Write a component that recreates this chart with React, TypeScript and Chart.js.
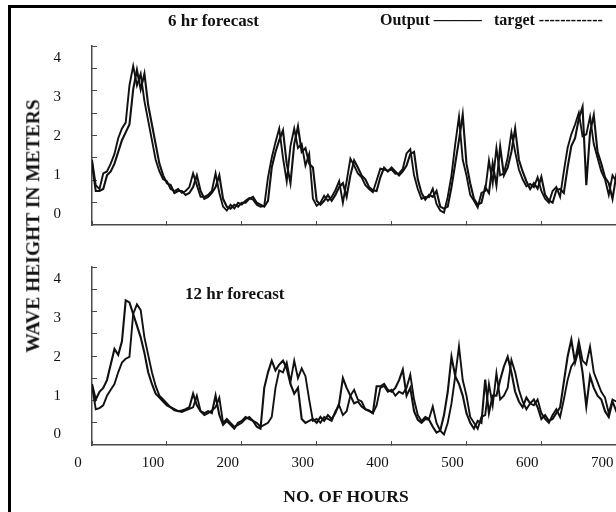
import React, { useEffect, useRef } from "react";
import { Chart, registerables } from "chart.js";

Chart.register(...registerables);

// ---- data ----
const HOURS = [
  0, 5, 10, 15, 20, 25, 30, 35, 40, 45, 50, 55, 60, 65, 70, 75, 80, 85, 90, 95,
  100, 105, 110, 115, 120, 125, 130, 135, 140, 145, 150, 155, 160, 165, 170, 175, 180, 185, 190, 195,
  200, 205, 210, 215, 220, 225, 230, 235, 240, 245, 250, 255, 260, 265, 270, 275, 280, 285, 290, 295,
  300, 305, 310, 315, 320, 325, 330, 335, 340, 345, 350, 355, 360, 365, 370, 375, 380, 385, 390, 395,
  400, 405, 410, 415, 420, 425, 430, 435, 440, 445, 450, 455, 460, 465, 470, 475, 480, 485, 490, 495,
  500, 505, 510, 515, 520, 525, 530, 535, 540, 545, 550, 555, 560, 565, 570, 575, 580, 585, 590, 595,
  600, 605, 610, 615, 620, 625, 630, 635, 640, 645, 650, 655, 660, 665, 670, 675, 680, 685, 690, 695,
  700, 705,
];

const TARGET_6 = [
  1.4, 0.75, 0.65, 1.05, 1.1, 1.3, 1.55, 1.95, 2.2, 2.35, 3.3, 3.8, 3.3, 3.6, 2.9, 2.4, 1.9, 1.4, 1.1, 0.9,
  0.85, 0.65, 0.6, 0.65, 0.55, 0.6, 0.7, 1.05, 0.75, 0.45, 0.45, 0.5, 0.6, 1.05, 0.55, 0.2, 0.1, 0.25, 0.15, 0.3,
  0.25, 0.35, 0.42, 0.38, 0.25, 0.2, 0.22, 0.95, 1.45, 1.85, 2.2, 1.45, 0.85, 1.75, 2.2, 1.7, 1.8, 1.25, 1.55, 0.4,
  0.22, 0.3, 0.48, 0.35, 0.45, 0.62, 0.85, 0.3, 0.85, 1.43, 1.25, 1.05, 0.95, 0.75, 0.65, 0.57, 0.87, 1.17, 1.15, 1.12,
  1.15, 1.04, 1.05, 1.17, 1.56, 1.67, 1.0, 0.65, 0.4, 0.45, 0.44, 0.66, 0.27, 0.1, 0.05, 0.45, 1.0, 1.8, 2.5, 1.4,
  1.0, 0.5, 0.35, 0.18, 0.55, 0.6, 1.38, 0.8, 1.7, 1.0, 1.05, 1.45, 2.1, 1.6, 1.15, 0.9, 0.72, 0.78, 0.7, 0.95,
  0.6, 0.4, 0.3, 0.6, 0.7, 0.45, 1.1, 1.7, 2.05, 2.3, 2.6, 2.0, 2.05, 2.5, 1.8, 1.45, 1.1, 0.9, 0.5, 1.0,
  0.85, 0.9,
];

const OUTPUT_6 = [
  1.3, 0.6, 0.6, 0.65, 1.0, 1.1, 1.3, 1.6, 1.9, 2.1, 2.3, 3.2, 3.7, 3.2, 3.6, 2.8, 2.3, 1.8, 1.3, 1.0,
  0.8, 0.75, 0.55, 0.6, 0.6, 0.5, 0.55, 0.7, 1.0, 0.6, 0.4, 0.45, 0.55, 0.7, 1.0, 0.4, 0.2, 0.15, 0.25, 0.2,
  0.3, 0.3, 0.4, 0.45, 0.3, 0.25, 0.2, 0.35, 1.2, 1.6, 1.9, 2.15, 1.3, 0.8, 1.8, 2.25, 1.6, 1.7, 1.3, 1.2,
  0.35, 0.25, 0.35, 0.5, 0.35, 0.5, 0.7, 0.8, 0.45, 1.0, 1.38, 1.2, 1.0, 0.9, 0.7, 0.62, 0.6, 0.95, 1.2, 1.1,
  1.2, 1.1, 1.0, 1.1, 1.25, 1.55, 1.6, 0.9, 0.55, 0.38, 0.5, 0.45, 0.6, 0.2, 0.15, 0.2, 0.7, 1.3, 1.9, 2.55,
  1.3, 0.8, 0.4, 0.25, 0.3, 0.7, 0.55, 1.3, 0.75, 1.73, 1.0, 1.2, 1.6, 2.2, 1.4, 1.1, 0.85, 0.65, 0.8, 0.66,
  0.96, 0.5, 0.36, 0.3, 0.62, 0.65, 0.55, 1.2, 1.75, 1.95, 2.45, 2.75, 0.75, 2.1, 2.54, 1.6, 1.3, 0.95, 0.8, 0.4,
  1.0, 0.85,
];

const TARGET_12 = [
  1.25, 0.65, 0.68, 0.75, 1.0, 1.15, 1.3, 1.6, 1.85, 1.95, 2.0, 3.1, 3.35, 3.2, 2.5, 2.05, 1.6, 1.25, 1.0, 0.9,
  0.8, 0.7, 0.62, 0.6, 0.58, 0.62, 0.66, 0.7, 1.0, 0.6, 0.5, 0.55, 0.62, 0.7, 0.95, 0.3, 0.4, 0.3, 0.2, 0.25,
  0.3, 0.4, 0.45, 0.35, 0.3, 0.2, 0.25, 0.3, 0.45, 1.2, 1.65, 1.6, 1.85, 1.35, 1.9, 1.45, 1.7, 1.5, 0.9, 0.35,
  0.4, 0.3, 0.45, 0.4, 0.35, 0.6, 0.75, 0.5, 0.6, 1.0, 1.15, 0.9, 0.85, 0.65, 0.6, 0.55, 0.75, 1.2, 1.25, 1.1,
  1.15, 1.0, 1.1, 1.05, 1.2, 1.54, 0.9, 0.5, 0.35, 0.45, 0.4, 0.72, 0.3, 0.1, 0.0, 0.3, 0.8, 1.5, 2.27, 1.4,
  1.0, 0.45, 0.3, 0.15, 0.45, 0.5, 1.3, 0.75, 1.58, 0.9, 1.0, 1.2, 1.92, 1.6, 1.15, 0.85, 0.65, 0.8, 0.75, 0.9,
  0.55, 0.4, 0.3, 0.5, 0.65, 0.45, 0.9, 1.4, 1.75, 1.9, 2.4, 1.9, 1.8, 2.26, 1.6, 1.35, 1.1, 0.95, 0.55, 0.9,
  0.85, 0.8,
];

const OUTPUT_12 = [
  1.3, 0.9, 1.1, 1.2, 1.4, 1.8, 2.2, 2.05, 2.4, 3.45, 3.4, 3.1, 2.8, 2.5, 2.1, 1.6, 1.3, 1.05, 0.95, 0.85,
  0.75, 0.7, 0.65, 0.6, 0.62, 0.65, 0.7, 1.05, 0.75, 0.6, 0.55, 0.6, 0.55, 1.0, 0.5, 0.25, 0.35, 0.25, 0.15, 0.3,
  0.35, 0.45, 0.4, 0.35, 0.2, 0.15, 1.2, 1.6, 1.9, 1.65, 1.8, 1.9, 1.7, 1.3, 1.05, 1.2, 0.4, 0.3, 0.35, 0.4,
  0.3, 0.45, 0.35, 0.5, 0.4, 0.55, 0.8, 1.45, 1.2, 1.0, 0.8, 0.85, 0.72, 0.65, 0.62, 0.55, 1.24, 1.24, 1.3, 1.15,
  1.1, 1.2, 1.4, 1.67, 1.0, 1.2, 0.6, 0.38, 0.3, 0.4, 0.38, 0.2, 0.05, 0.1, 0.5, 1.1, 2.0, 1.5, 1.3, 1.0,
  0.55, 0.3, 0.15, 0.35, 0.3, 1.41, 0.55, 1.0, 1.0, 1.4, 1.75, 2.0, 1.6, 1.1, 0.85, 0.7, 0.95, 0.8, 0.9, 0.7,
  0.4, 0.5, 0.35, 0.4, 0.55, 0.7, 1.35, 2.0, 2.44, 1.85, 2.2, 1.6, 0.72, 1.5, 1.2, 1.0, 0.9, 0.6, 0.45, 0.85,
  0.6, 0.7,
];

const X_TICKS = [0, 100, 200, 300, 400, 500, 600, 700];
const Y_TICKS = [0, 1, 2, 3, 4];

const SERIF = '"Liberation Serif", "Times New Roman", serif';
const INK = "#111111";
const AXIS = "#4a4a4a";

function buildConfig(target: number[], output: number[], bottom: boolean): any {
  const yMin = -0.27;
  const yMax = 4.31;
  return {
    type: "line",
    data: {
      datasets: [
        {
          label: "target",
          data: HOURS.map((h, i) => ({ x: h, y: target[i] })),
          borderColor: INK,
          borderWidth: 1.9,
          pointRadius: 0,
          tension: 0,
        },
        {
          label: "Output",
          data: HOURS.map((h, i) => ({ x: h, y: output[i] })),
          borderColor: INK,
          borderWidth: 2.1,
          pointRadius: 0,
          tension: 0,
        },
      ],
    },
    options: {
      animation: false,
      responsive: false,
      maintainAspectRatio: false,
      events: [],
      layout: { padding: { top: bottom ? 27 : 46, left: 0, right: 0, bottom: 0 } },
      plugins: {
        legend: { display: false },
        tooltip: { enabled: false },
        title: { display: false },
      },
      scales: {
        x: {
          type: "linear",
          min: 0,
          max: 705,
          afterBuildTicks: (s: any) => {
            s.ticks = X_TICKS.map((v) => ({ value: v }));
          },
          afterFit: (s: any) => {
            s.height = bottom ? 67 : 15;
            s.paddingLeft = 0;
            s.paddingRight = 0;
          },
          grid: {
            drawOnChartArea: false,
            drawTicks: true,
            tickLength: -4,
            color: AXIS,
            lineWidth: 1,
          },
          border: { display: true, color: AXIS, width: 1.5 },
          ticks: {
            display: bottom,
            autoSkip: false,
            maxRotation: 0,
            labelOffset: -14,
            padding: 13,
            color: INK,
            font: { family: SERIF, size: 15 },
            callback: (v: any) => String(v),
          },
        },
        y: {
          type: "linear",
          min: yMin,
          max: yMax,
          afterBuildTicks: (s: any) => {
            const minor: { value: number }[] = [];
            for (let k = 0; k < 8; k++) {
              minor.push({ value: s.max - (k * (s.max - s.min)) / 8 });
            }
            const all = [...Y_TICKS.map((v) => ({ value: v })), ...minor];
            all.sort((a, b) => a.value - b.value);
            s.ticks = all;
          },
          afterFit: (s: any) => {
            s.width = 92;
            s.paddingTop = 0;
            s.paddingBottom = 0;
          },
          grid: {
            drawOnChartArea: false,
            drawTicks: true,
            tickLength: -5,
            lineWidth: 1,
            color: (ctx: any) =>
              ctx.tick && Y_TICKS.includes(ctx.tick.value) ? "rgba(0,0,0,0)" : AXIS,
          },
          border: { display: true, color: AXIS, width: 1.5 },
          ticks: {
            autoSkip: false,
            padding: 36,
            color: INK,
            font: { family: SERIF, size: 15 },
            callback: (v: any) => (Y_TICKS.includes(v) ? String(v) : ""),
          },
        },
      },
    },
  };
}

export default function App() {
  const topRef = useRef<HTMLCanvasElement | null>(null);
  const botRef = useRef<HTMLCanvasElement | null>(null);

  useEffect(() => {
    const c1 = new Chart(topRef.current as HTMLCanvasElement, buildConfig(TARGET_6, OUTPUT_6, false));
    const c2 = new Chart(botRef.current as HTMLCanvasElement, buildConfig(TARGET_12, OUTPUT_12, true));
    return () => {
      c1.destroy();
      c2.destroy();
    };
  }, []);

  const text = (extra: React.CSSProperties): React.CSSProperties => ({
    position: "absolute",
    fontFamily: SERIF,
    color: INK,
    whiteSpace: "nowrap",
    lineHeight: 1,
    ...extra,
  });

  return (
    <div
      style={{
        position: "fixed",
        left: 0,
        top: 0,
        width: 616,
        height: 512,
        overflow: "hidden",
        background: "#fff",
      }}
    >
      <div
        style={{
          position: "absolute",
          left: 8,
          top: 5,
          width: 700,
          height: 700,
          borderTop: "3px solid #000",
          borderLeft: "3px solid #000",
        }}
      />
      <canvas
        ref={topRef}
        width={620}
        height={240}
        style={{ position: "absolute", left: 0, top: 0, width: 620, height: 240 }}
      />
      <canvas
        ref={botRef}
        width={620}
        height={272}
        style={{ position: "absolute", left: 0, top: 240, width: 620, height: 272 }}
      />
      <div style={text({ left: 168, top: 20, transform: "translateY(-50%)", fontSize: 17, fontWeight: 700 })}>
        6 hr forecast
      </div>
      <div style={text({ left: 380, top: 20, transform: "translateY(-50%)", fontSize: 16, fontWeight: 700 })}>
        Output ———
      </div>
      <div style={text({ left: 494, top: 20, transform: "translateY(-50%)", fontSize: 16, fontWeight: 700 })}>
        target ------------
      </div>
      <div style={text({ left: 185, top: 293, transform: "translateY(-50%)", fontSize: 17, fontWeight: 700 })}>
        12 hr forecast
      </div>
      <div
        style={text({
          left: 33,
          top: 226,
          transform: "translate(-50%, -50%) rotate(-90deg)",
          fontSize: 19.5,
          fontWeight: 700,
        })}
      >
        WAVE HEIGHT IN METERS
      </div>
      <div style={text({ left: 346, top: 497, transform: "translate(-50%, -50%)", fontSize: 17.5, fontWeight: 700 })}>
        NO. OF HOURS
      </div>
    </div>
  );
}
